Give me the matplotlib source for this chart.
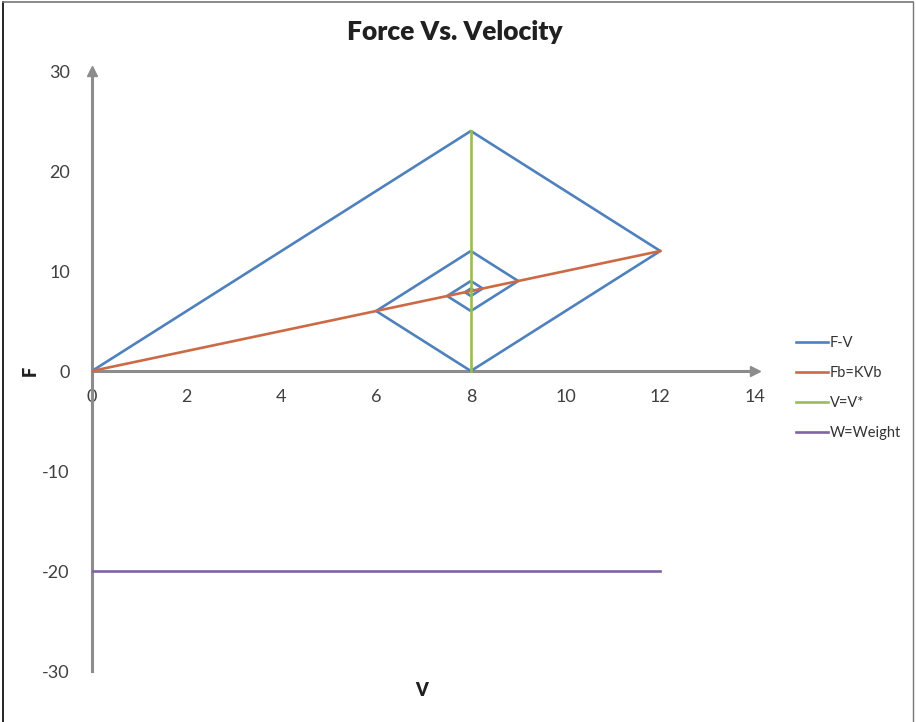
import matplotlib.pyplot as plt
from matplotlib.lines import Line2D

plt.rcParams['font.family'] = ['Lato', 'DejaVu Sans']
plt.rcParams['axes.unicode_minus'] = False

# F-V cobweb path
fv_v = [0, 8, 12, 8, 6, 8, 9, 8, 7.5, 8, 8.25, 8, 7.875, 8, 8.0625]
fv_f = [0, 24, 12, 0, 6, 12, 9, 6, 7.5, 9, 8.25, 7.5, 7.875, 8.25, 8.0625]

# Fb = K*Vb
fb_v = [0, 12]
fb_f = [0, 12]

# V = V*
vs_v = [8, 8]
vs_f = [0, 24]

# W = Weight
w_v = [0, 12]
w_f = [-20, -20]

xticks = [0, 2, 4, 6, 8, 10, 12, 14]
yticks = [-30, -20, -10, 0, 10, 20, 30]

axis_gray = '#8c8c8c'
text_gray = '#404040'

fig = plt.figure(figsize=(9.16, 7.22), dpi=100)
ax = fig.add_axes([92/916, 1 - 671/722, (755 - 92)/916, 600/722])

ax.plot(fv_v, fv_f, color='#4F81BD', lw=1.9, label='F-V', zorder=3)
ax.plot(fb_v, fb_f, color='#CB6A45', lw=1.9, label='Fb=KVb', zorder=4)
ax.plot(vs_v, vs_f, color='#9BBB59', lw=1.9, label='V=V*', zorder=5)
ax.plot(w_v, w_f, color='#8064A2', lw=1.9, label='W=Weight', zorder=5)

ax.set_xlim(0, 14)
ax.set_ylim(-30, 30)

for s in ['top', 'right']:
    ax.spines[s].set_visible(False)
ax.spines['left'].set_position(('data', 0))
ax.spines['bottom'].set_position(('data', 0))
for s in ['left', 'bottom']:
    ax.spines[s].set_color(axis_gray)
    ax.spines[s].set_linewidth(2.2)
    ax.spines[s].set_zorder(2)

# arrow heads
ax.plot(1, 0, '>', color=axis_gray, ms=7, transform=ax.get_yaxis_transform(), clip_on=False)
ax.plot(0, 1, '^', color=axis_gray, ms=7, transform=ax.get_xaxis_transform(), clip_on=False)

ax.set_xticks(xticks)
ax.set_yticks(yticks)
ax.tick_params(axis='both', length=0, labelsize=13, labelcolor=text_gray)
ax.tick_params(axis='x', pad=13)
ax.tick_params(axis='y', pad=16)

fig.text(455/916, 1 - 32/722, 'Force Vs. Velocity', ha='center', va='center',
         fontsize=19, fontweight='heavy', color='#202020')
fig.text(30/916, 1 - 371/722, 'F', ha='center', va='center', rotation=90,
         fontsize=13, fontweight='heavy', color='#202020')
fig.text(422/916, 1 - 690/722, 'V', ha='center', va='center',
         fontsize=13, fontweight='heavy', color='#202020')

handles, labels = ax.get_legend_handles_labels()
leg = fig.legend(handles, labels, loc='center left', bbox_to_anchor=(783/916, 1 - 388/722),
                 frameon=False, fontsize=10.5, handlelength=2.2, handletextpad=0.1,
                 labelspacing=1.1, labelcolor='#333333')

# chart border
fig.add_artist(Line2D([3/916, 3/916], [0, 1 - 2/722], color='black', lw=1.2))
fig.add_artist(Line2D([3/916, 913/916], [1 - 2/722, 1 - 2/722], color='#777777', lw=1.2))
fig.add_artist(Line2D([913/916, 913/916], [1 - 2/722, 0], color='#777777', lw=1.0))

plt.savefig('out.png', dpi=100)
